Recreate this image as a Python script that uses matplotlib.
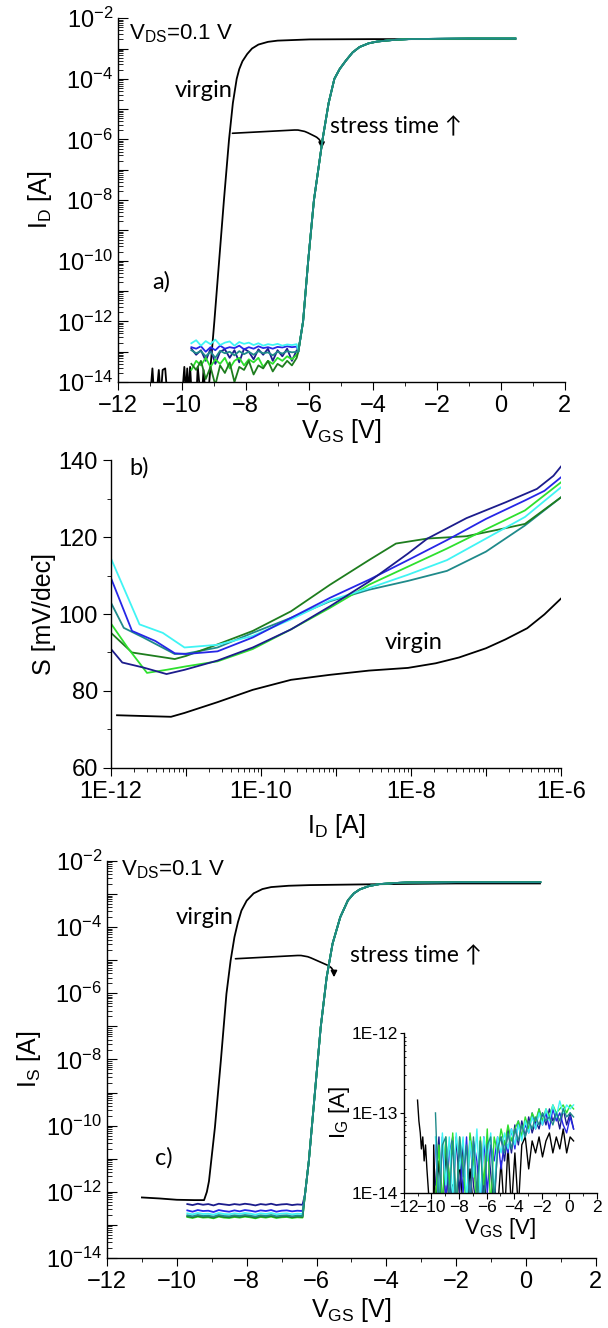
import numpy as np
import matplotlib
matplotlib.use('Agg')
import matplotlib.pyplot as plt
from matplotlib.patches import FancyArrowPatch
from matplotlib.ticker import (LogLocator, FixedLocator, FuncFormatter, MultipleLocator,
                               NullFormatter)

plt.rcParams['font.family'] = ['Liberation Sans', 'DejaVu Sans']
plt.rcParams['mathtext.fontset'] = 'custom'
plt.rcParams['mathtext.rm'] = 'Liberation Sans'
plt.rcParams['mathtext.it'] = 'Liberation Sans:italic'
plt.rcParams['axes.linewidth'] = 1.0

NOTE_FONT = ['Lato', 'DejaVu Sans']

# ---------------- data ----------------
# stressed-device colours (stress time increasing)
series_names = ['navy', 'blue', 'cyan', 'green', 'dkgreen', 'teal']
colors = {'navy': '#1c1c8c', 'blue': '#2626e6', 'cyan': '#40f4f4',
          'teal': '#1f8a8a', 'green': '#2ee02e', 'dkgreen': '#1e7d1e'}

# a) I_D vs V_GS, virgin (log10 I_D)
virgin_a_vgs = [-11.0, -10.92, -10.86, -10.8, -10.72, -10.66, -10.6, -10.52, -10.45, -10.4,
                -10.0, -9.92, -9.87, -9.83, -9.78, -9.74, -9.68, -9.55, -9.5, -9.42, -9.37,
                -9.32, -9.25, -9.18, -9.14, -8.98, -8.83, -8.68, -8.52, -8.4, -8.28, -8.2,
                -8.1, -7.95, -7.8, -7.6, -7.3, -7.0, -6.0, -4.0, -2.0, 0.45]
virgin_a_log = [-14.6, -13.55, -14.6, -14.5, -13.6, -14.5, -13.6, -13.55, -14.5, -14.6,
                -14.6, -13.5, -14.4, -13.55, -14.4, -13.5, -14.6, -14.6, -13.5, -14.4, -14.5,
                -13.6, -14.5, -14.2, -14.0, -12.0, -10.0, -8.0, -6.0, -4.8, -4.0, -3.68,
                -3.42, -3.18, -3.0, -2.87, -2.78, -2.74, -2.7, -2.69, -2.69, -2.69]

# off-state sweep of the stressed devices
off_vgs = [-9.7, -9.55, -9.4, -9.25, -9.1, -8.95, -8.8, -8.65, -8.5, -8.35, -8.2, -8.05,
           -7.9, -7.75, -7.6, -7.45, -7.3, -7.15, -7.0, -6.85, -6.7, -6.55, -6.4]

off_a_log = {
    'cyan': [-12.72, -12.62, -12.8, -12.65, -12.75, -12.6, -12.78, -12.7, -12.66, -12.8, -12.68,
             -12.74, -12.7, -12.78, -12.72, -12.8, -12.75, -12.78, -12.74, -12.8, -12.76, -12.78, -12.75],
    'navy': [-12.9, -13.1, -12.95, -13.3, -12.9, -13.4, -13.0, -12.92, -13.2, -12.95, -13.35,
             -12.9, -13.0, -13.25, -12.92, -13.1, -12.9, -13.3, -12.95, -13.15, -12.9, -13.3, -12.95],
    'blue': [-12.85, -12.9, -12.82, -13.0, -12.85, -12.95, -12.8, -12.9, -12.85, -12.88, -12.8,
             -12.92, -12.85, -12.9, -12.82, -12.88, -12.85, -12.9, -12.84, -12.86, -12.82, -12.85, -12.83],
    'teal': [-12.95, -13.05, -12.98, -13.15, -13.0, -13.2, -12.97, -13.05, -13.0, -13.12, -12.98,
             -13.08, -13.0, -13.1, -12.98, -13.05, -13.02, -13.12, -13.0, -13.06, -12.98, -13.02, -13.0],
    'green': [-13.6, -13.3, -13.45, -13.2, -13.5, -13.25, -13.4, -13.2, -13.55, -13.3, -13.2,
              -13.45, -13.25, -13.35, -13.2, -13.5, -13.3, -13.4, -13.2, -13.3, -13.15, -13.25, -13.1],
    'dkgreen': [-13.4, -13.6, -13.3, -13.9, -13.5, -14.1, -13.45, -13.7, -13.35, -14.0, -13.5,
                -13.6, -13.3, -13.75, -13.45, -13.55, -13.3, -13.65, -13.4, -13.5, -13.3, -13.45, -13.2],
}
on_a_vgs = [-6.35, -6.2, -6.04, -5.86, -5.59, -5.4, -5.22, -5.05, -4.86, -4.65, -4.43, -4.15,
            -3.88, -3.4, -2.9, -1.0, 0.45]
on_a_log = [-13.0, -12.0, -10.0, -8.0, -6.0, -4.8, -4.0, -3.67, -3.4, -3.13, -2.95, -2.83,
            -2.77, -2.72, -2.69, -2.67, -2.67]

# b) subthreshold swing S [mV/dec] vs log10 I_D
virgin_b_x = [-11.92, -11.57, -11.2, -11.02, -10.58, -10.11, -9.6, -9.08, -8.56, -8.04, -7.67,
              -7.36, -7.0, -6.74, -6.45, -6.22, -6.0]
virgin_b_s = [73.7, 73.5, 73.3, 74.3, 77.1, 80.3, 82.9, 84.2, 85.3, 86.0, 87.2, 88.7, 91.1,
              93.4, 96.3, 99.9, 104.0]
stress_b_x = {
    'navy': [-12, -11.85, -11.57, -11.26, -11.02, -10.58, -10.11, -9.6, -9.08, -8.56, -8.04,
             -7.78, -7.26, -6.74, -6.32, -6.1, -6.0],
    'blue': [-12, -11.72, -11.41, -11.15, -11.0, -10.58, -10.11, -9.6, -9.08, -8.56, -8.04,
             -7.52, -7.0, -6.48, -6.22, -6.0],
    'cyan': [-12, -11.62, -11.31, -11.02, -10.58, -10.11, -9.6, -9.08, -8.56, -8.04, -7.52,
             -7.0, -6.48, -6.0],
    'teal': [-12, -11.83, -11.57, -11.15, -11.0, -10.58, -10.11, -9.6, -9.08, -8.56, -8.04,
             -7.52, -7.0, -6.48, -6.0],
    'green': [-12, -11.78, -11.52, -11.26, -11.0, -10.58, -10.11, -9.6, -9.08, -8.56, -8.04,
              -7.52, -7.0, -6.48, -6.0],
    'dkgreen': [-12, -11.72, -11.15, -11.0, -10.58, -10.11, -9.6, -9.08, -8.56, -8.2, -7.78,
                -7.26, -6.74, -6.48, -6.0],
}
stress_b_s = {
    'navy': [90.9, 87.4, 86.1, 84.4, 85.5, 87.9, 91.3, 96.0, 102.0, 108.4, 115.7, 119.6, 124.9,
             129.0, 132.5, 135.9, 138.3],
    'blue': [109.3, 95.6, 93.0, 89.8, 89.6, 90.3, 93.9, 99.0, 104.2, 108.9, 114.0, 119.2, 124.7,
             129.5, 132.0, 135.5],
    'cyan': [114.4, 97.3, 95.1, 91.3, 92.0, 94.3, 98.6, 103.5, 106.7, 110.2, 114.0, 119.6, 125.2,
             132.9],
    'teal': [102.9, 96.4, 93.9, 89.6, 89.7, 91.3, 95.1, 99.0, 103.3, 106.3, 108.6, 111.2, 116.2,
             123.0, 130.3],
    'green': [97.5, 91.3, 84.7, 85.5, 86.4, 87.7, 90.9, 96.0, 101.6, 107.6, 112.3, 117.0, 122.0,
              126.9, 134.2],
    'dkgreen': [95.1, 90.0, 88.3, 89.1, 92.1, 95.6, 100.7, 107.6, 114.0, 118.3, 119.6, 120.2,
                122.3, 123.4, 130.3],
}

# c) I_S vs V_GS
virgin_c_vgs = [-11.0, -10.5, -10.0, -9.5, -9.22, -9.14, -9.08, -8.91, -8.74, -8.58, -8.46,
                -8.35, -8.25, -8.15, -8.0, -7.8, -7.55, -7.3, -6.8, -6.2, -4.0, -2.0, 0.4]
virgin_c_log = [-12.17, -12.2, -12.24, -12.25, -12.25, -12.0, -11.68, -10.06, -8.04, -6.02,
                -5.01, -4.3, -3.85, -3.5, -3.2, -2.98, -2.85, -2.79, -2.75, -2.73, -2.7, -2.68, -2.68]
off_c_log = {
    'navy': [-12.37, -12.4, -12.36, -12.39, -12.37, -12.41, -12.36, -12.38, -12.4, -12.37, -12.39,
             -12.36, -12.38, -12.41, -12.37, -12.39, -12.36, -12.4, -12.38, -12.37, -12.4, -12.38, -12.39],
    'blue': [-12.56, -12.6, -12.55, -12.58, -12.57, -12.61, -12.55, -12.58, -12.6, -12.56, -12.59,
             -12.55, -12.57, -12.6, -12.56, -12.58, -12.55, -12.6, -12.57, -12.56, -12.59, -12.57, -12.58],
    'cyan': [-12.65, -12.68, -12.64, -12.67, -12.66, -12.69, -12.64, -12.67, -12.68, -12.65, -12.67,
             -12.64, -12.66, -12.69, -12.65, -12.67, -12.64, -12.68, -12.66, -12.65, -12.68, -12.66, -12.67],
    'teal': [-12.71, -12.74, -12.7, -12.73, -12.72, -12.75, -12.7, -12.73, -12.74, -12.71, -12.73,
             -12.7, -12.72, -12.75, -12.71, -12.73, -12.7, -12.74, -12.72, -12.71, -12.74, -12.72, -12.73],
    'green': [-12.76, -12.79, -12.75, -12.78, -12.77, -12.8, -12.75, -12.78, -12.79, -12.76, -12.78,
              -12.75, -12.77, -12.8, -12.76, -12.78, -12.75, -12.79, -12.77, -12.76, -12.79, -12.77, -12.78],
    'dkgreen': [-12.74, -12.77, -12.73, -12.76, -12.75, -12.78, -12.73, -12.76, -12.77, -12.74, -12.76,
                -12.73, -12.75, -12.78, -12.74, -12.76, -12.73, -12.77, -12.75, -12.74, -12.77, -12.75, -12.76],
}
on_c_vgs = [-6.33, -6.22, -6.05, -5.88, -5.71, -5.54, -5.32, -5.1, -4.93, -4.76, -4.5, -4.2,
            -3.8, -3.41, -2.0, 0.41]
on_c_log = [-12.08, -11.07, -9.05, -7.03, -5.52, -4.5, -3.7, -3.19, -2.98, -2.86, -2.76, -2.7,
            -2.67, -2.65, -2.64, -2.64]

# c) inset: gate current I_G
inset_vgs = [-9.7, -9.45, -9.2, -8.95, -8.7, -8.45, -8.2, -7.95, -7.7, -7.45, -7.2, -6.95, -6.7,
             -6.45, -6.2, -5.95, -5.7, -5.45, -5.2, -4.95, -4.7, -4.45, -4.2, -3.95, -3.7, -3.45,
             -3.2, -2.95, -2.7, -2.45, -2.2, -1.95, -1.7, -1.45, -1.2, -0.95, -0.7, -0.45, -0.2,
             0.05, 0.3]
inset_log = {
    'navy': [-13.9, -13.3, -14.2, -13.35, -13.8, -14.2, -13.3, -14.0, -13.4, -14.2, -13.3, -13.9,
             -14.2, -13.35, -14.1, -13.3, -13.75, -14.2, -13.4, -13.3, -13.6, -13.2, -13.5, -13.15,
             -13.4, -13.1, -13.3, -13.05, -13.25, -13.1, -13.2, -13.0, -13.15, -12.95, -13.1, -13.0,
             -13.2, -12.95, -13.15, -13.0, -13.2],
    'blue': [-13.4, -14.2, -13.3, -14.1, -13.5, -13.3, -14.2, -13.4, -14.0, -13.3, -14.2, -13.35,
             -13.6, -14.2, -13.3, -14.0, -13.4, -13.6, -13.3, -13.7, -13.35, -13.5, -13.2, -13.45,
             -13.1, -13.3, -13.15, -13.25, -13.0, -13.2, -12.95, -13.15, -13.0, -13.2, -12.95, -13.1,
             -13.0, -13.15, -13.25, -13.05, -13.2],
    'cyan': [-13.3, -14.1, -13.25, -13.9, -13.3, -14.1, -13.25, -13.7, -13.3, -14.1, -13.35, -13.8,
             -13.2, -14.1, -13.3, -13.6, -13.25, -14.0, -13.3, -13.5, -13.25, -13.45, -13.2, -13.4,
             -13.15, -13.35, -13.1, -13.25, -13.05, -13.2, -13.0, -13.15, -12.95, -13.1, -12.9,
             -13.05, -12.85, -13.0, -12.9, -12.95, -12.9],
    'green': [-14.1, -13.4, -14.2, -13.3, -13.9, -13.25, -14.2, -13.3, -13.7, -14.2, -13.25, -13.6,
              -14.2, -13.3, -13.9, -13.2, -14.2, -13.3, -13.5, -13.2, -13.4, -13.15, -13.35, -13.2,
              -13.1, -13.3, -13.05, -13.2, -13.0, -13.1, -12.95, -13.1, -12.95, -13.05, -12.9, -13.0,
              -12.95, -12.9, -13.0, -12.9, -12.95],
    'teal': [-13.0, -14.2, -13.4, -13.3, -14.1, -13.35, -14.2, -13.3, -13.8, -13.4, -14.2, -13.3,
             -14.0, -13.35, -14.2, -13.4, -13.3, -14.1, -13.45, -13.3, -13.5, -13.25, -13.45, -13.2,
             -13.35, -13.15, -13.3, -13.1, -13.2, -13.05, -13.15, -13.0, -13.1, -13.05, -13.15, -13.0,
             -13.1, -12.95, -13.05, -13.0, -13.05],
}
inset_virgin_vgs = [-11.0, -10.9, -10.8, -10.72, -10.62, -10.52, -10.42, -10.32, -10.2, -10.0,
                    -9.85, -9.83, -9.7, -9.45, -9.2, -8.95, -8.7, -8.45, -8.2, -7.95, -7.7, -7.45,
                    -7.2, -6.95, -6.7, -6.45, -6.2, -5.95, -5.7, -5.45, -5.2, -4.95, -4.7, -4.45,
                    -4.2, -3.95, -3.7, -3.45, -3.2, -2.95, -2.7, -2.45, -2.2, -1.95, -1.7, -1.45,
                    -1.2, -0.95, -0.7, -0.45, -0.2, 0.05, 0.3]
inset_virgin_log = [-12.84, -13.1, -13.25, -13.45, -13.3, -13.6, -13.4, -13.7, -14.0, -14.5,
                    -14.3, -13.4, -14.2, -13.6, -14.3, -13.5, -14.2, -13.9, -14.3, -13.6, -14.2,
                    -14.3, -13.7, -14.2, -14.1, -14.3, -13.8, -14.2, -14.3, -13.9, -14.2, -13.6,
                    -14.3, -13.4, -14.2, -13.5, -14.2, -13.4, -13.3, -13.7, -13.35, -13.5, -13.3,
                    -13.55, -13.35, -13.25, -13.5, -13.3, -13.45, -13.2, -13.5, -13.3, -13.35]

# tick decades shown on each log axis
transfer_decades = [-14, -13, -12, -11, -10, -9, -8, -7, -6, -5, -4, -3, -2]
swing_decades = [-12, -11, -10, -9, -8, -7, -6]
inset_decades = [-14, -13, -12]


def pow10(vals):
    return 10.0 ** np.array(vals)


def even_decade_label(val, pos):
    e = int(round(np.log10(val)))
    return r'$\mathregular{10^{%d}}$' % e if e % 2 == 0 else ''


def even_decade_e(val, pos):
    e = int(round(np.log10(val)))
    return '1E%d' % e if e % 2 == 0 else ''


def clean(ax):
    ax.spines['top'].set_visible(False)
    ax.spines['right'].set_visible(False)


def transfer_axes(ax, ylabel):
    clean(ax)
    ax.set_yscale('log')
    ax.set_xlim(-12, 2)
    ax.set_ylim(1e-14, 1e-2)
    ax.xaxis.set_major_locator(MultipleLocator(2))
    ax.xaxis.set_minor_locator(MultipleLocator(1))
    ax.yaxis.set_major_locator(FixedLocator(pow10(transfer_decades)))
    ax.yaxis.set_minor_locator(LogLocator(base=10, subs=np.arange(2, 10), numticks=20))
    ax.yaxis.set_major_formatter(FuncFormatter(even_decade_label))
    ax.yaxis.set_minor_formatter(NullFormatter())
    ax.tick_params(axis='y', which='both', direction='in', labelsize=17)
    ax.tick_params(axis='y', which='major', length=7)
    ax.tick_params(axis='y', which='minor', length=3.5)
    ax.tick_params(axis='x', which='both', direction='out', labelsize=17)
    ax.tick_params(axis='x', which='major', length=6)
    ax.tick_params(axis='x', which='minor', length=3)
    ax.set_ylabel(ylabel, fontsize=18, labelpad=2)


def hook_arrow(ax, start, end):
    ax.add_patch(FancyArrowPatch(start, end, arrowstyle='-|>', color='k', lw=1.2,
                                 mutation_scale=9,
                                 connectionstyle='arc,angleA=3,angleB=90,armA=72,armB=12,rad=7'))


fig = plt.figure(figsize=(6.08, 13.28), dpi=100)

# ---------------- a) ----------------
ax_a = fig.add_axes([0.194, 0.7123, 0.735, 0.274])
ax_a.plot(virgin_a_vgs, pow10(virgin_a_log), color='k', lw=1.3)
for name in series_names:
    ax_a.plot(off_vgs + on_a_vgs, pow10(off_a_log[name] + on_a_log),
              color=colors[name], lw=1.3)
transfer_axes(ax_a, r'I$_\mathrm{D}$ [A]')
ax_a.set_xlabel(r'V$_\mathrm{GS}$ [V]', fontsize=18, labelpad=0)
ax_a.text(-11.65, 10 ** -2.5, r'V$_\mathrm{DS}$=0.1 V', fontsize=16, va='center')
ax_a.text(-9.3, 10 ** -4.4, 'virgin', fontsize=17, family=NOTE_FONT, ha='center', va='center')
ax_a.text(-5.35, 10 ** -5.6, 'stress time \u2191', fontsize=16.5, family=NOTE_FONT, va='center')
ax_a.text(-10.65, 10 ** -10.7, 'a)', fontsize=17, family=NOTE_FONT, ha='center', va='center')
hook_arrow(ax_a, (-8.5, 10 ** -5.8), (-5.62, 10 ** -6.4))

# ---------------- b) ----------------
ax_b = fig.add_axes([0.1826, 0.4217, 0.740, 0.2319])
clean(ax_b)
ax_b.plot(pow10(virgin_b_x), virgin_b_s, color='k', lw=1.3)
for name in ['teal', 'dkgreen', 'green', 'cyan', 'blue', 'navy']:
    ax_b.plot(pow10(stress_b_x[name]), stress_b_s[name], color=colors[name], lw=1.3)
ax_b.set_xscale('log')
ax_b.set_xlim(1e-12, 1e-6)
ax_b.set_ylim(60, 140)
ax_b.xaxis.set_major_locator(FixedLocator(pow10(swing_decades)))
ax_b.xaxis.set_minor_locator(LogLocator(base=10, subs=np.arange(2, 10), numticks=20))
ax_b.xaxis.set_major_formatter(FuncFormatter(even_decade_e))
ax_b.xaxis.set_minor_formatter(NullFormatter())
ax_b.yaxis.set_major_locator(MultipleLocator(20))
ax_b.yaxis.set_minor_locator(MultipleLocator(10))
ax_b.tick_params(which='both', direction='out', labelsize=17)
ax_b.tick_params(which='major', length=6)
ax_b.tick_params(which='minor', length=3)
ax_b.set_ylabel('S [mV/dec]', fontsize=18, labelpad=2)
ax_b.set_xlabel(r'I$_\mathrm{D}$ [A]', fontsize=18, labelpad=6)
ax_b.text(10 ** -11.62, 138, 'b)', fontsize=17, family=NOTE_FONT, ha='center', va='center')
ax_b.text(10 ** -7.96, 92.5, 'virgin', fontsize=17, family=NOTE_FONT, ha='center', va='center')

# ---------------- c) ----------------
ax_c = fig.add_axes([0.176, 0.0527, 0.804, 0.299])
ax_c.plot(virgin_c_vgs, pow10(virgin_c_log), color='k', lw=1.3)
for name in series_names:
    ax_c.plot(off_vgs + on_c_vgs, pow10(off_c_log[name] + on_c_log),
              color=colors[name], lw=1.3)
transfer_axes(ax_c, r'I$_\mathrm{S}$ [A]')
ax_c.set_xlabel(r'V$_\mathrm{GS}$ [V]', fontsize=18, labelpad=2)
ax_c.text(-11.6, 10 ** -2.25, r'V$_\mathrm{DS}$=0.1 V', fontsize=16, va='center')
ax_c.text(-9.2, 10 ** -3.7, 'virgin', fontsize=17, family=NOTE_FONT, ha='center', va='center')
ax_c.text(-5.05, 10 ** -4.86, 'stress time \u2191', fontsize=16.5, family=NOTE_FONT, va='center')
ax_c.text(-10.37, 10 ** -10.97, 'c)', fontsize=17, family=NOTE_FONT, ha='center', va='center')
hook_arrow(ax_c, (-8.4, 10 ** -4.96), (-5.5, 10 ** -5.6))

# inset
ax_in = fig.add_axes([0.664, 0.1017, 0.318, 0.1205])
clean(ax_in)
ax_in.plot(inset_virgin_vgs, pow10(inset_virgin_log), color='k', lw=1.0)
for name in ['navy', 'blue', 'green', 'cyan', 'teal']:
    ax_in.plot(inset_vgs, pow10(inset_log[name]), color=colors[name], lw=1.0)
ax_in.set_yscale('log')
ax_in.set_xlim(-12, 2)
ax_in.set_ylim(1e-14, 1e-12)
ax_in.xaxis.set_major_locator(MultipleLocator(2))
ax_in.xaxis.set_minor_locator(MultipleLocator(1))
ax_in.yaxis.set_major_locator(FixedLocator(pow10(inset_decades)))
ax_in.yaxis.set_minor_locator(LogLocator(base=10, subs=np.arange(2, 10), numticks=10))
ax_in.yaxis.set_major_formatter(FuncFormatter(lambda v, p: '1E%d' % int(round(np.log10(v)))))
ax_in.yaxis.set_minor_formatter(NullFormatter())
ax_in.tick_params(which='both', labelsize=12.5, pad=1)
ax_in.tick_params(axis='x', which='major', direction='out', length=4)
ax_in.tick_params(axis='x', which='minor', direction='out', length=2)
ax_in.tick_params(axis='y', which='major', direction='out', length=3)
ax_in.tick_params(axis='y', which='minor', direction='in', length=1.5)
ax_in.set_ylabel(r'I$_\mathrm{G}$ [A]', fontsize=16, labelpad=0)
ax_in.set_xlabel(r'V$_\mathrm{GS}$ [V]', fontsize=16, labelpad=1)

fig.savefig('out.png', dpi=100)
